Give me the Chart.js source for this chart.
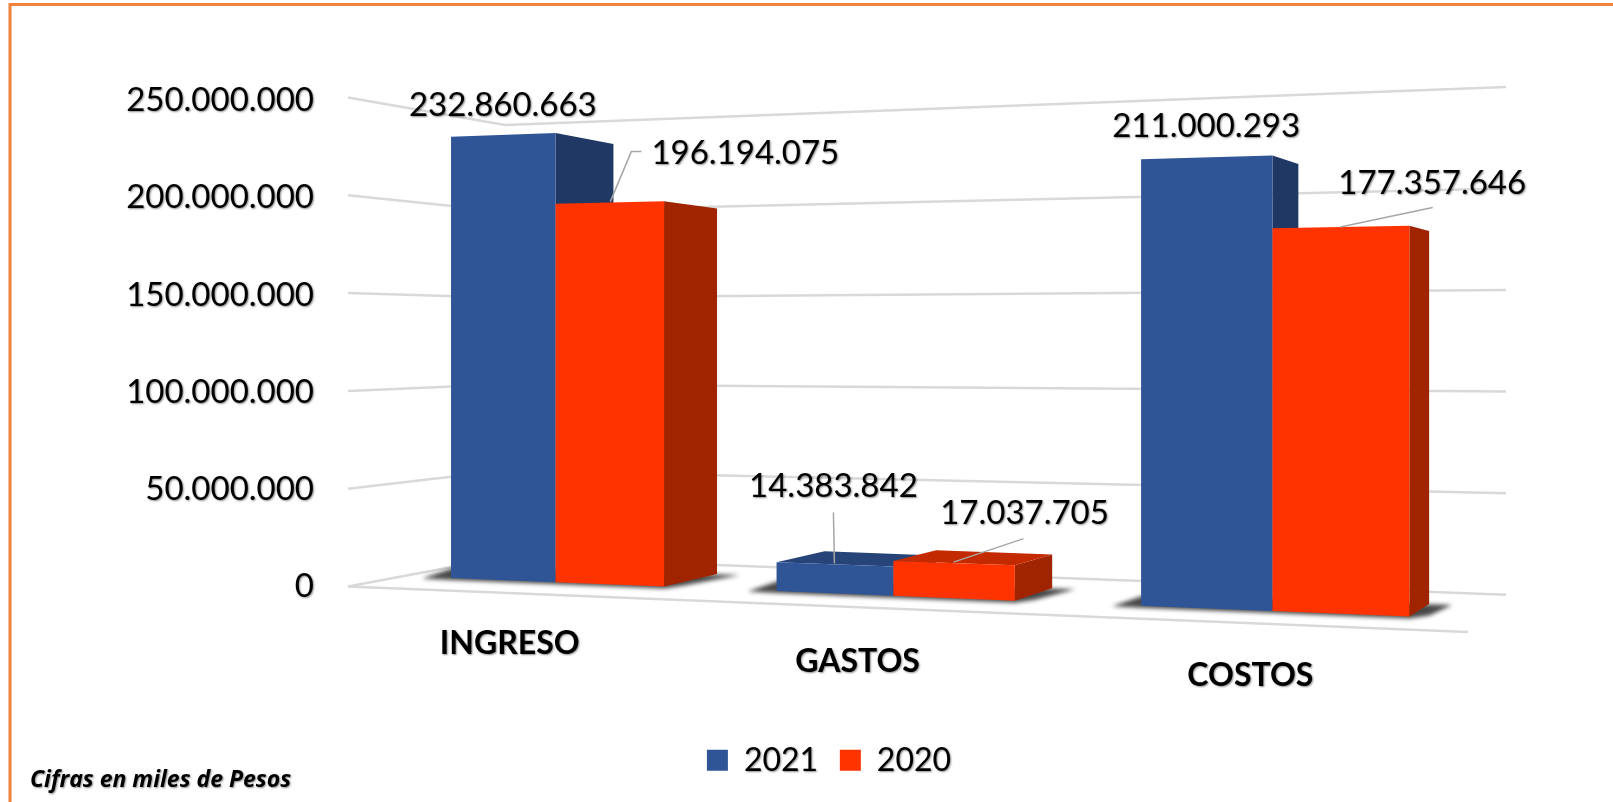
<!DOCTYPE html>
<html>
<head>
<meta charset="utf-8">
<script src="https://cdn.jsdelivr.net/npm/chart.js@4/dist/chart.umd.min.js"></script>
<style>html,body{margin:0;padding:0;background:#fff}canvas{display:block}</style>
</head>
<body>
<canvas id="c" width="1613" height="802"></canvas>
<script>
const categories = ['INGRESO', 'GASTOS', 'COSTOS'];
const values2021 = [232860663, 14383842, 211000293];
const values2020 = [196194075, 17037705, 177357646];
const seriesNames = ['2021', '2020'];
const footnote = 'Cifras en miles de Pesos';

const FONT = 'Lato, Carlito, Calibri, sans-serif';
const frontColors = ['#2F5597', '#FF3300'];
const sideColors = ['#1F3864', '#A12400'];
const topColors = ['#264478', '#C42A00'];
// label offset from the top-centre of each bar [series][category]
const labelOffsets = [[[0, -30], [-1, -78], [0, -31]], [[136, -49], [71, -50], [92, -44]]];
// leader polyline offsets from the top-centre of each bar (null = none)
const leaders = [[null, [[0, -1], [-1, -52]], null],
                 [[[1, -1], [22, -51], [32, -51]], [[0, -1], [70, -24.5]], [[0, 0], [92.5, -19.6]]]];
const catLabelShift = [[-49, 37.5], [-122.5, 55.5], [-151, 69.5]];

const fmt = v => String(v).replace(/\B(?=(\d{3})+(?!\d))/g, '.');

// Perspective of the 3D plot: category units -> screen
const projX = s => (893.4 + 305.8 * s) / (1 - 0.0576 * s);
const baseY = X => 578 + 0.04016 * (X - 451);
const perUnit = X => (1.895 + 0.000321 * (X - 451)) / 1e6;
const pt = (s, v) => { const x = projX(s); return { x, y: baseY(x) - v * perUnit(x) }; };
const back = (p, v) => ({ x: p.x + 53 - 0.0446 * (p.x - 664), y: p.y - 12.5 + 0.1 * v / 1e6 });

function poly(ctx, pts, fill) {
  ctx.beginPath();
  pts.forEach((p, i) => i ? ctx.lineTo(p.x, p.y) : ctx.moveTo(p.x, p.y));
  ctx.closePath();
  ctx.fillStyle = fill;
  ctx.fill();
}

const plot3d = {
  id: 'plot3d',
  beforeDraw(chart) {
    const ctx = chart.ctx;
    if (!ctx._shadowed) {
      const orig = ctx.fillText;
      ctx.fillText = function (...a) {
        this.save();
        this.shadowColor = 'rgba(0,0,0,0.45)';
        this.shadowBlur = 2;
        this.shadowOffsetX = 1;
        this.shadowOffsetY = 1;
        orig.apply(this, a);
        this.restore();
      };
      ctx._shadowed = true;
    }
    chart.scales.x.getLabelItems(chart.chartArea).forEach((it, i) => {
      it.options.translation[0] += catLabelShift[i][0];
      it.options.translation[1] += catLabelShift[i][1];
    });
    chart.scales.y.getLabelItems(chart.chartArea).forEach((it, i, all) => {
      it.options.translation[1] += 3 * (i === 0 ? 0 : i / (all.length - 1));
    });
    // orange frame
    ctx.save();
    ctx.strokeStyle = '#F0823C';
    ctx.lineWidth = 3;
    ctx.beginPath();
    ctx.moveTo(10, 802);
    ctx.lineTo(10, 4.5);
    ctx.lineTo(1613, 4.5);
    ctx.stroke();
    ctx.restore();
  },
  beforeDatasetsDraw(chart) {
    const ctx = chart.ctx, ys = chart.scales.y, xs = chart.scales.x;
    const area = chart.chartArea;
    const W = xs.getPixelForValue(1) - xs.getPixelForValue(0);
    const toS = u => (u - xs.getPixelForValue(1)) / W;
    ctx.save();
    // walls
    ctx.strokeStyle = '#D9D9D9';
    ctx.lineWidth = 2.5;
    ys.ticks.forEach(t => {
      const py = ys.getPixelForValue(t.value);
      const f = (ys.bottom - py) / (ys.bottom - ys.top);
      ctx.beginPath();
      ctx.moveTo(area.left, py);
      ctx.lineTo(505, 557 - f * 432);
      ctx.lineTo(1506, 594.7 - f * 507.7);
      ctx.stroke();
    });
    // floor front edge
    ctx.beginPath();
    ctx.moveTo(area.left, ys.getPixelForValue(0));
    ctx.lineTo(1468, 632);
    ctx.stroke();

    const metas = chart.data.datasets.map((d, i) => chart.getDatasetMeta(i));
    // floor shadows
    categories.forEach((c, i) => {
      const e0 = metas[0].data[i], e1 = metas[1].data[i];
      const a = pt(toS(e0.x - e0.width / 2), 0), b = pt(toS(e1.x + e1.width / 2), 0);
      const bb = back(b, 0);
      ctx.save();
      ctx.filter = 'blur(2px)';
      poly(ctx, [{ x: a.x - 29, y: a.y + 0.5 }, { x: a.x + 2, y: a.y - 10 }, { x: bb.x + 23, y: bb.y + 1 },
                 { x: b.x + 20, y: b.y - 1 }, { x: b.x, y: b.y + 2 }, { x: a.x, y: a.y + 2 }], 'rgba(40,40,40,0.85)');
      ctx.restore();
    });
    // bars
    metas.forEach((m, si) => {
      m.data.forEach(el => {
        const v = ys.getValueForPixel(el.y);
        const s0 = toS(el.x - el.width / 2), s1 = toS(el.x + el.width / 2);
        const tl = pt(s0, v), tr = pt(s1, v), bl = pt(s0, 0), br = pt(s1, 0);
        const btr = back(tr, v), bbr = back(br, 0), btl = back(tl, v);
        poly(ctx, [tr, btr, bbr, br], sideColors[si]);
        if (btr.y < tr.y) poly(ctx, [tl, tr, btr, btl], topColors[si]);
        poly(ctx, [tl, tr, br, bl], frontColors[si]);
      });
    });
    ctx.restore();
  },
  beforeDatasetDraw() { return false; },
  afterDatasetsDraw(chart) {
    const ctx = chart.ctx, ys = chart.scales.y, xs = chart.scales.x;
    const W = xs.getPixelForValue(1) - xs.getPixelForValue(0);
    const toS = u => (u - xs.getPixelForValue(1)) / W;
    ctx.save();
    chart.data.datasets.forEach((d, si) => {
      chart.getDatasetMeta(si).data.forEach((el, i) => {
        const anchor = pt(toS(el.x), ys.getValueForPixel(el.y));
        const ln = leaders[si][i];
        if (ln) {
          ctx.strokeStyle = '#A6A6A6';
          ctx.lineWidth = 1.5;
          ctx.beginPath();
          ln.forEach((o, k) => k ? ctx.lineTo(anchor.x + o[0], anchor.y + o[1]) : ctx.moveTo(anchor.x + o[0], anchor.y + o[1]));
          ctx.stroke();
        }
        ctx.font = '33px ' + FONT;
        ctx.fillStyle = '#000';
        ctx.textAlign = 'center';
        ctx.textBaseline = 'middle';
        ctx.fillText(fmt(d.data[i]), anchor.x + labelOffsets[si][i][0], anchor.y + labelOffsets[si][i][1]);
      });
    });
    ctx.font = 'italic bold 23px "Open Sans", sans-serif';
    ctx.fillStyle = '#000';
    ctx.textAlign = 'left';
    ctx.textBaseline = 'middle';
    ctx.fillText(footnote, 30, 780);
    ctx.restore();
  }
};

new Chart(document.getElementById('c'), {
  type: 'bar',
  data: {
    labels: categories,
    datasets: [
      { label: seriesNames[0], data: values2021, backgroundColor: frontColors[0], categoryPercentage: 2 / 3, barPercentage: 1 },
      { label: seriesNames[1], data: values2020, backgroundColor: frontColors[1], categoryPercentage: 2 / 3, barPercentage: 1 }
    ]
  },
  plugins: [plot3d],
  options: {
    responsive: false,
    animation: false,
    layout: { padding: { left: 46, right: 1, top: 97.5, bottom: 15.8 } },
    scales: {
      y: {
        min: 0, max: 250000000,
        grid: { display: false, drawTicks: false },
        border: { display: false },
        ticks: { stepSize: 50000000, padding: 34, color: '#000', font: { family: FONT, size: 33 }, callback: v => fmt(v) },
        afterFit(s) { s.width = 302; }
      },
      x: {
        grid: { display: false, drawTicks: false },
        border: { display: false },
        ticks: { color: '#000', padding: 0, maxRotation: 0, font: { family: FONT, size: 32, weight: 'bold' } },
        afterFit(s) { s.height = 136; }
      }
    },
    plugins: {
      tooltip: { enabled: false },
      legend: {
        position: 'bottom',
        labels: { boxWidth: 21, boxHeight: 21, padding: 21.7, color: '#000', font: { family: FONT, size: 32 } }
      }
    }
  }
});
</script>
</body>
</html>
